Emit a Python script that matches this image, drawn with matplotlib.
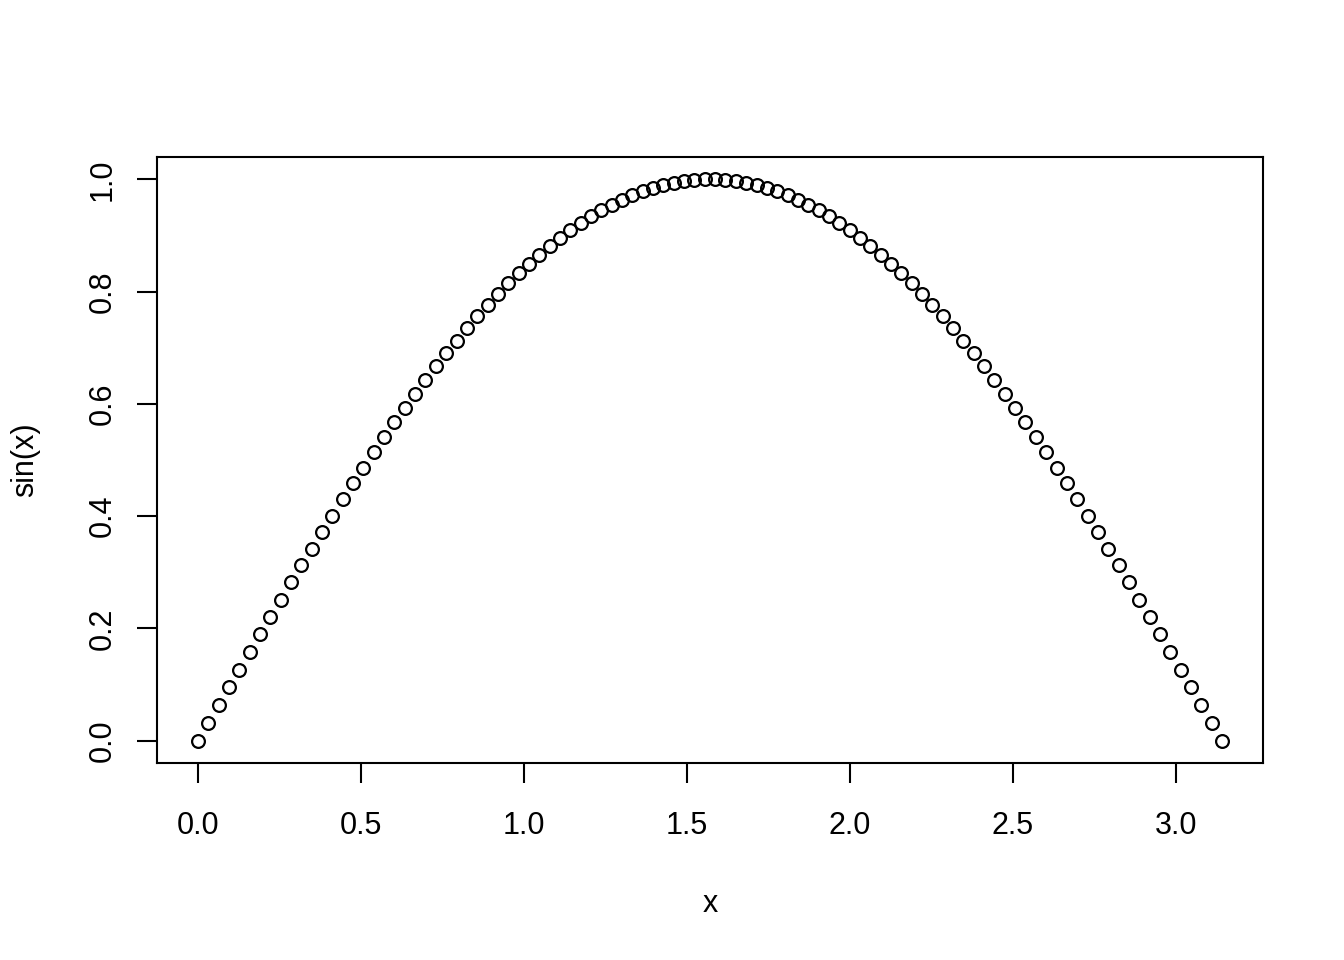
import matplotlib
matplotlib.use('Agg')
from matplotlib import pyplot as plt

plt.rcParams['font.family'] = ['Liberation Sans', 'DejaVu Sans']

# 100 points, x from 0 to pi
x_vals = [
    0.0000, 0.0317, 0.0635, 0.0952, 0.1269, 0.1587, 0.1904, 0.2221, 0.2539, 0.2856,
    0.3173, 0.3491, 0.3808, 0.4125, 0.4443, 0.4760, 0.5077, 0.5395, 0.5712, 0.6029,
    0.6347, 0.6664, 0.6981, 0.7299, 0.7616, 0.7933, 0.8251, 0.8568, 0.8885, 0.9203,
    0.9520, 0.9837, 1.0155, 1.0472, 1.0789, 1.1107, 1.1424, 1.1741, 1.2059, 1.2376,
    1.2693, 1.3011, 1.3328, 1.3645, 1.3963, 1.4280, 1.4597, 1.4915, 1.5232, 1.5549,
    1.5867, 1.6184, 1.6501, 1.6819, 1.7136, 1.7453, 1.7771, 1.8088, 1.8405, 1.8723,
    1.9040, 1.9357, 1.9675, 1.9992, 2.0309, 2.0627, 2.0944, 2.1261, 2.1579, 2.1896,
    2.2213, 2.2531, 2.2848, 2.3165, 2.3483, 2.3800, 2.4117, 2.4435, 2.4752, 2.5069,
    2.5387, 2.5704, 2.6021, 2.6339, 2.6656, 2.6973, 2.7291, 2.7608, 2.7925, 2.8243,
    2.8560, 2.8877, 2.9195, 2.9512, 2.9829, 3.0147, 3.0464, 3.0781, 3.1099, 3.1416,
]
y_vals = [
    0.00000, 0.03173, 0.06342, 0.09506, 0.12659, 0.15800, 0.18925, 0.22031, 0.25115, 0.28173,
    0.31203, 0.34202, 0.37166, 0.40093, 0.42980, 0.45823, 0.48620, 0.51368, 0.54064, 0.56706,
    0.59291, 0.61816, 0.64279, 0.66677, 0.69008, 0.71270, 0.73459, 0.75575, 0.77615, 0.79577,
    0.81458, 0.83257, 0.84973, 0.86603, 0.88145, 0.89599, 0.90963, 0.92235, 0.93415, 0.94500,
    0.95490, 0.96384, 0.97181, 0.97880, 0.98481, 0.98982, 0.99384, 0.99685, 0.99887, 0.99987,
    0.99987, 0.99887, 0.99685, 0.99384, 0.98982, 0.98481, 0.97880, 0.97181, 0.96384, 0.95490,
    0.94500, 0.93415, 0.92235, 0.90963, 0.89599, 0.88145, 0.86603, 0.84973, 0.83257, 0.81458,
    0.79577, 0.77615, 0.75575, 0.73459, 0.71270, 0.69008, 0.66677, 0.64279, 0.61816, 0.59291,
    0.56706, 0.54064, 0.51368, 0.48620, 0.45823, 0.42980, 0.40093, 0.37166, 0.34202, 0.31203,
    0.28173, 0.25115, 0.22031, 0.18925, 0.15800, 0.12659, 0.09506, 0.06342, 0.03173, 0.00000,
]
x_ticks = [0.0, 0.5, 1.0, 1.5, 2.0, 2.5, 3.0]
y_ticks = [0.0, 0.2, 0.4, 0.6, 0.8, 1.0]

fig = plt.figure(figsize=(13.44, 9.6), dpi=100)
ax = fig.add_axes([0.1168, 0.2052, 0.8229, 0.6313])

ax.plot(x_vals, y_vals, 'o', markersize=9.2, markerfacecolor='none',
        markeredgecolor='black', markeredgewidth=1.6)

# R style 4% padding on both axes
xr = max(x_vals) - min(x_vals)
yr = max(y_vals) - min(y_vals)
ax.set_xlim(min(x_vals) - 0.04 * xr, max(x_vals) + 0.04 * xr)
ax.set_ylim(min(y_vals) - 0.04 * yr, max(y_vals) + 0.04 * yr)

ax.set_xticks(x_ticks)
ax.set_xticklabels(['%.1f' % t for t in x_ticks])
ax.set_yticks(y_ticks)
ax.set_yticklabels(['%.1f' % t for t in y_ticks], rotation=90, va='center')

for s in ax.spines.values():
    s.set_linewidth(1.5)
ax.tick_params(axis='both', direction='out', length=14.4, width=1.5, labelsize=22)
ax.tick_params(axis='x', pad=20.0)
ax.tick_params(axis='y', pad=14.0)

ax.set_xlabel('x', fontsize=22)
ax.xaxis.label.set_va('baseline')
ax.xaxis.set_label_coords(0.5, -0.2459)
ax.set_ylabel('sin(x)', fontsize=22)
ax.yaxis.label.set_va('baseline')
ax.yaxis.set_label_coords(-0.1121, 0.5)

fig.savefig('out.png', dpi=100)
